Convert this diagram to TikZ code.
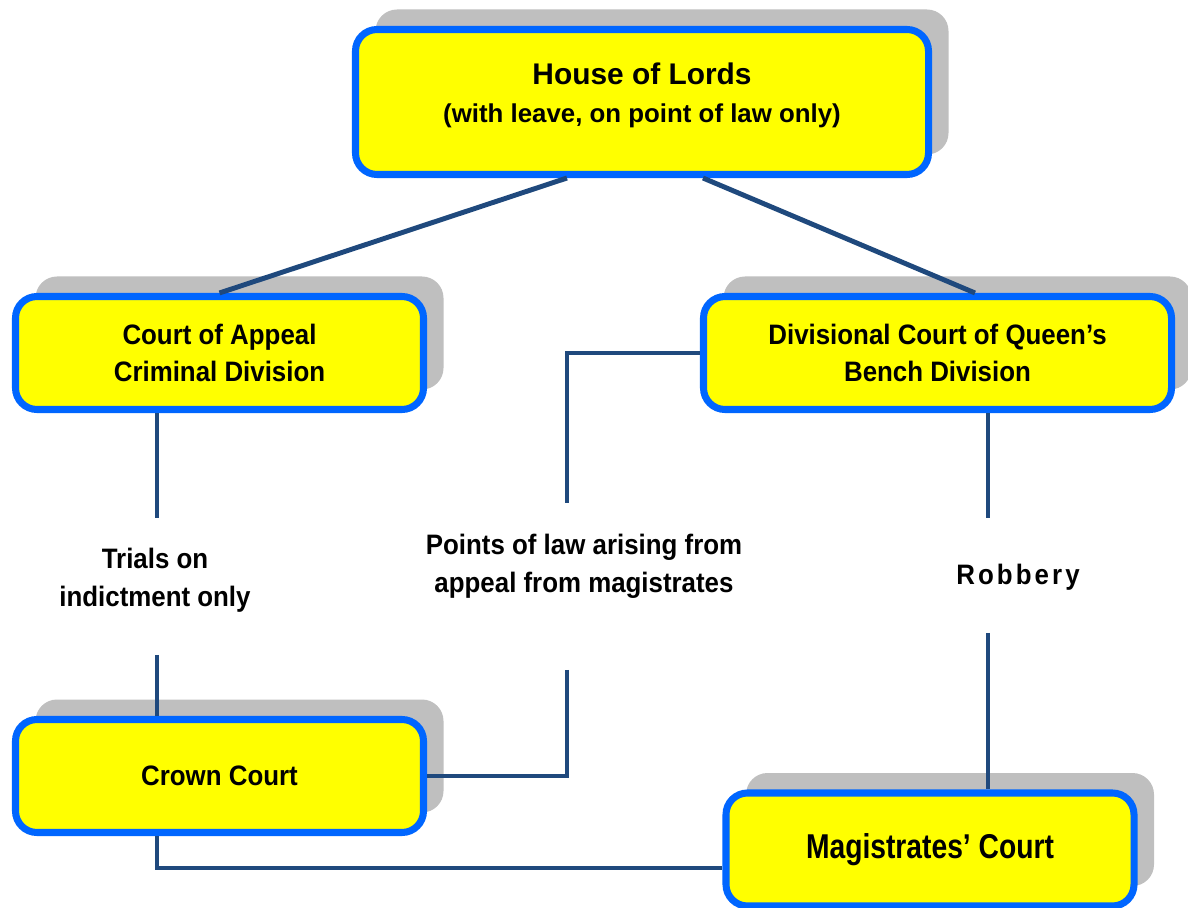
\documentclass[tikz,border=0pt]{standalone}
\usepackage{fontspec}
\setmainfont{Liberation Sans}
\newfontfamily\narrowsans{Liberation Sans}[FakeStretch=0.92]
\newfontfamily\condsans{Liberation Sans}[FakeStretch=0.82]
\usetikzlibrary{shadows,calc}
\definecolor{courtyellow}{HTML}{FFFF00}
\definecolor{courtblue}{HTML}{0066FF}
\definecolor{linkblue}{HTML}{1F497D}
\definecolor{shadowgray}{HTML}{BFBFBF}
\begin{document}
\begin{tikzpicture}[scale=0.2,
  court/.style={rectangle, rounded corners=0.43cm, draw=courtblue, line width=4pt,
    fill=courtyellow, align=center, inner sep=0pt,
    font=\narrowsans\bfseries\fontsize{16}{21.5}\selectfont,
    drop shadow={shadow xshift=0.4cm, shadow yshift=0.4cm, fill=shadowgray, opacity=1}},
  note/.style={inner sep=0pt, align=center, font=\narrowsans\bfseries\fontsize{16}{21.5}\selectfont},
  link/.style={draw=linkblue, line width=2.8pt}]
\useasboundingbox (0,0) rectangle (118.8,-90.8);
\node [court, minimum width=11.46cm, minimum height=2.9cm, font=\bfseries\fontsize{14.7}{21.5}\selectfont] (hol) at (64.2,-10.2)
  {{\fontsize{17}{21.5}\selectfont House of Lords}\\(with leave, on point of law only)\rule[-0.36cm]{0pt}{0.36cm}};
\node [court, minimum width=8.16cm, minimum height=2.26cm] (coa) at (21.95,-35.3)
  {Court of Appeal\\Criminal Division};
\node [court, minimum width=9.36cm, minimum height=2.26cm] (div) at (93.75,-35.3)
  {Divisional Court of Queen’s\\Bench Division};
\node [court, minimum width=8.16cm, minimum height=2.26cm] (crown) at (21.95,-77.6)
  {Crown Court};
\node [court, minimum width=8.16cm, minimum height=2.26cm, font=\condsans\bfseries\fontsize{19.6}{21.5}\selectfont] (mag) at (93.0,-84.95)
  {Magistrates’ Court};
\node [note] (trials) at (15.5,-58.0) {Trials on\\indictment only};
\node [note] (points) at (58.4,-56.6) {Points of law arising from\\appeal from magistrates};
\node [note] (robbery) at (101.8,-57.7) {\addfontfeature{LetterSpace=11}Robbery};
\coordinate (tr1) at (15.7,-51.8);
\coordinate (tr2) at (15.7,-65.5);
\coordinate (pl1) at (56.7,-50.3);
\coordinate (pl2) at (56.7,-67.0);
\coordinate (rb1) at (98.8,-51.8);
\coordinate (rb2) at (98.8,-63.3);
\draw [link] ($(hol.south)+(-7.5,0)$) -- (coa.north);
\draw [link] ($(hol.south)+(6.1,0)$) -- ($(div.north)+(3.75,0)$);
\draw [link] (tr1 |- coa.south) -- (tr1);
\draw [link] (tr2) -- (tr2 |- crown.north);
\draw [link] (div.west) -| (pl1);
\draw [link] (pl2) |- (crown.east);
\draw [link] (rb1 |- div.south) -- (rb1);
\draw [link] (rb2) -- (rb2 |- mag.north);
\draw [link] (tr2 |- crown.south) |- ($(mag.west)+(0,-1.85)$);
\end{tikzpicture}
\end{document}
